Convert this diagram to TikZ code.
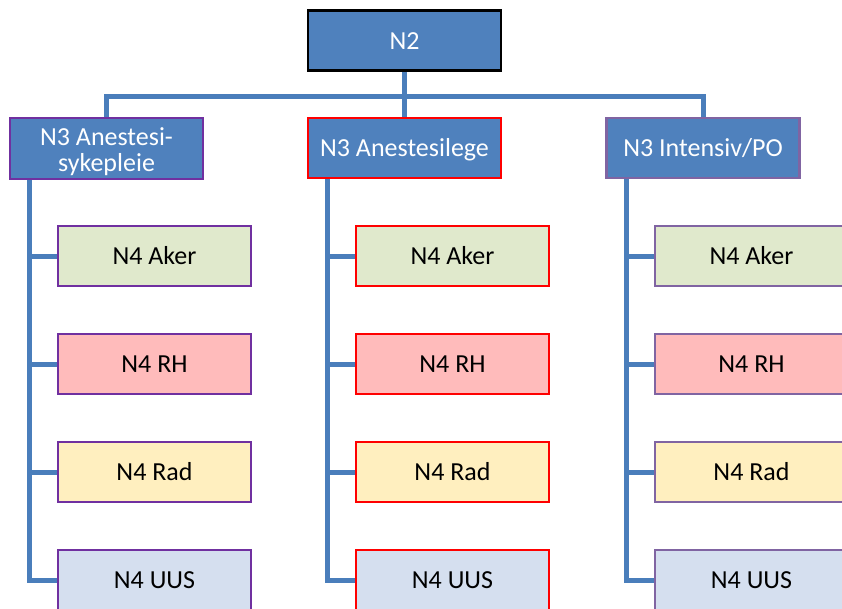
\documentclass[tikz,border=0pt]{standalone}
\usepackage{fontspec}
\setmainfont{Carlito}
\usepackage{tikz}
\definecolor{orgblue}{RGB}{79,129,189}
\definecolor{orgline}{RGB}{74,126,187}
\definecolor{orgpurple}{RGB}{112,48,160}
\definecolor{orglilac}{RGB}{128,100,162}
\definecolor{orgred}{RGB}{255,0,0}
\definecolor{akergreen}{RGB}{224,233,204}
\definecolor{rhpink}{RGB}{255,187,187}
\definecolor{radyellow}{RGB}{255,239,191}
\definecolor{uusblue}{RGB}{213,223,239}

\begin{document}
\begin{tikzpicture}[x=1pt, y=-1pt,
    box/.style={draw, line width=2.5pt, minimum width=193pt, minimum height=60pt,
        inner sep=0pt, align=center, font=\fontsize{26}{28}\selectfont},
    oneline/.style={box, text height=22pt, text depth=5pt},
    topbox/.style={fill=orgblue, text=white},
    conn/.style={orgline, line width=5pt}]
        \useasboundingbox (0,0) rectangle (842,608);
        \clip (0,0) rectangle (842,608);

        % N2
        \node[oneline, topbox, draw=black] (n2) at (404.5,40.5) {N2};

        % N3
        \node[box, topbox, draw=orgpurple, minimum height=61pt]
            (n3a) at (106.5,148.5) {\rule{0pt}{25pt}N3 Anestesi-\\[-2pt]sykepleie};
        \node[oneline, topbox, draw=orgred] (n3b) at (404.5,148) {N3 Anestesilege};
        \node[oneline, topbox, draw=orglilac] (n3c) at (703,148) {N3 Intensiv/PO};

        % N4
        \foreach \col/\cx/\bc in {a/154.5/orgpurple, b/452.5/orgred, c/751.5/orglilac} {
            \node[oneline, draw=\bc, fill=akergreen] (aker\col) at (\cx,256) {N4 Aker};
            \node[oneline, draw=\bc, fill=rhpink] (rh\col) at (\cx,364) {N4 RH};
            \node[oneline, draw=\bc, fill=radyellow] (rad\col) at (\cx,472) {N4 Rad};
            \node[oneline, draw=\bc, fill=uusblue] (uus\col) at (\cx,580) {N4 UUS};
        }

        % Linjer
        \coordinate (bus) at (0,96);
        \draw[conn] (n2.south) -- (n2.south |- bus);
        \draw[conn] (n3a.north) -- (n3a.north |- bus) -- (n3c.north |- bus) -- (n3c.north);
        \draw[conn] (n3b.north) -- (n3b.north |- bus);
        \foreach \col in {a,b,c} {
            \foreach \lvl in {aker,rh,rad,uus} {
                \draw[conn] ([xshift=21pt]n3\col.south west) |- (\lvl\col.west);
            }
        }

    \end{tikzpicture}
\end{document}
